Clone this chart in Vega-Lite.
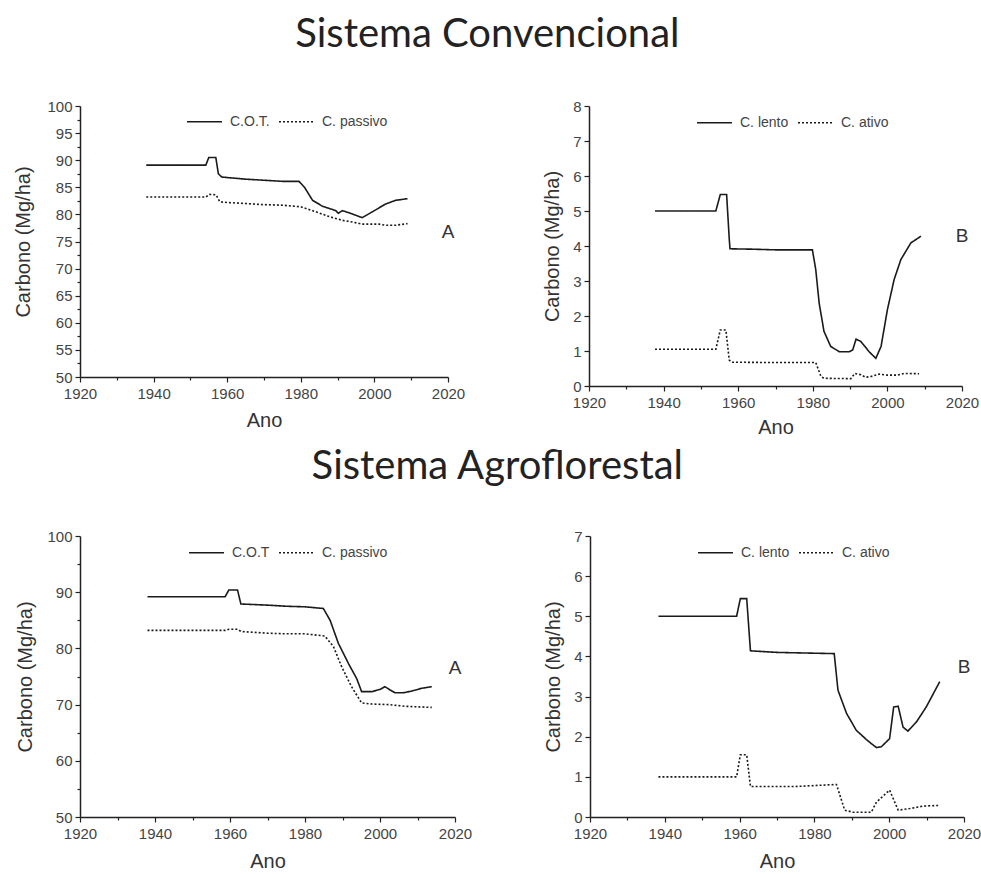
{
  "$schema": "https://vega.github.io/schema/vega-lite/v6.json",
  "padding": {"left": 13, "top": 15, "right": 0, "bottom": 0},
  "background": "white",
  "datasets": {
    "convA": [
      {"ano": 1938, "c": 89.1, "serie": "C.O.T."},
      {"ano": 1954.2, "c": 89.1, "serie": "C.O.T."},
      {"ano": 1955, "c": 90.5, "serie": "C.O.T."},
      {"ano": 1956.9, "c": 90.5, "serie": "C.O.T."},
      {"ano": 1957.6, "c": 87.5, "serie": "C.O.T."},
      {"ano": 1958.5, "c": 86.9, "serie": "C.O.T."},
      {"ano": 1960, "c": 86.8, "serie": "C.O.T."},
      {"ano": 1965, "c": 86.5, "serie": "C.O.T."},
      {"ano": 1970, "c": 86.3, "serie": "C.O.T."},
      {"ano": 1975, "c": 86.1, "serie": "C.O.T."},
      {"ano": 1979.5, "c": 86.1, "serie": "C.O.T."},
      {"ano": 1981, "c": 85.0, "serie": "C.O.T."},
      {"ano": 1983.2, "c": 82.6, "serie": "C.O.T."},
      {"ano": 1985.9, "c": 81.5, "serie": "C.O.T."},
      {"ano": 1989.5, "c": 80.7, "serie": "C.O.T."},
      {"ano": 1990.2, "c": 80.2, "serie": "C.O.T."},
      {"ano": 1991.3, "c": 80.7, "serie": "C.O.T."},
      {"ano": 1993.1, "c": 80.3, "serie": "C.O.T."},
      {"ano": 1996.7, "c": 79.4, "serie": "C.O.T."},
      {"ano": 1999.5, "c": 80.5, "serie": "C.O.T."},
      {"ano": 2003, "c": 81.9, "serie": "C.O.T."},
      {"ano": 2005.8, "c": 82.6, "serie": "C.O.T."},
      {"ano": 2009, "c": 82.9, "serie": "C.O.T."},
      {"ano": 1938, "c": 83.2, "serie": "C. passivo"},
      {"ano": 1954.2, "c": 83.2, "serie": "C. passivo"},
      {"ano": 1955.1, "c": 83.7, "serie": "C. passivo"},
      {"ano": 1957, "c": 83.6, "serie": "C. passivo"},
      {"ano": 1958, "c": 82.3, "serie": "C. passivo"},
      {"ano": 1960, "c": 82.2, "serie": "C. passivo"},
      {"ano": 1965, "c": 82.0, "serie": "C. passivo"},
      {"ano": 1970, "c": 81.8, "serie": "C. passivo"},
      {"ano": 1975, "c": 81.7, "serie": "C. passivo"},
      {"ano": 1980, "c": 81.4, "serie": "C. passivo"},
      {"ano": 1984, "c": 80.5, "serie": "C. passivo"},
      {"ano": 1987.7, "c": 79.6, "serie": "C. passivo"},
      {"ano": 1991.3, "c": 78.9, "serie": "C. passivo"},
      {"ano": 1994, "c": 78.6, "serie": "C. passivo"},
      {"ano": 1996.7, "c": 78.2, "serie": "C. passivo"},
      {"ano": 2001.3, "c": 78.2, "serie": "C. passivo"},
      {"ano": 2003, "c": 78.0, "serie": "C. passivo"},
      {"ano": 2005.8, "c": 78.0, "serie": "C. passivo"},
      {"ano": 2009, "c": 78.3, "serie": "C. passivo"}
    ],
    "convB": [
      {"ano": 1937.7, "c": 5.0, "serie": "C. lento"},
      {"ano": 1954, "c": 5.0, "serie": "C. lento"},
      {"ano": 1955.2, "c": 5.47, "serie": "C. lento"},
      {"ano": 1956.9, "c": 5.47, "serie": "C. lento"},
      {"ano": 1957.6, "c": 4.2, "serie": "C. lento"},
      {"ano": 1957.8, "c": 3.92, "serie": "C. lento"},
      {"ano": 1963.4, "c": 3.91, "serie": "C. lento"},
      {"ano": 1970, "c": 3.89, "serie": "C. lento"},
      {"ano": 1979.9, "c": 3.89, "serie": "C. lento"},
      {"ano": 1980.8, "c": 3.32, "serie": "C. lento"},
      {"ano": 1981.7, "c": 2.37, "serie": "C. lento"},
      {"ano": 1983, "c": 1.56, "serie": "C. lento"},
      {"ano": 1984.8, "c": 1.13, "serie": "C. lento"},
      {"ano": 1987.1, "c": 0.98, "serie": "C. lento"},
      {"ano": 1989.8, "c": 0.98, "serie": "C. lento"},
      {"ano": 1990.7, "c": 1.03, "serie": "C. lento"},
      {"ano": 1991.6, "c": 1.34, "serie": "C. lento"},
      {"ano": 1992.9, "c": 1.27, "serie": "C. lento"},
      {"ano": 1995.1, "c": 0.98, "serie": "C. lento"},
      {"ano": 1996.9, "c": 0.79, "serie": "C. lento"},
      {"ano": 1998.3, "c": 1.13, "serie": "C. lento"},
      {"ano": 2000, "c": 2.18, "serie": "C. lento"},
      {"ano": 2001.8, "c": 3.04, "serie": "C. lento"},
      {"ano": 2003.6, "c": 3.61, "serie": "C. lento"},
      {"ano": 2006.3, "c": 4.09, "serie": "C. lento"},
      {"ano": 2009, "c": 4.28, "serie": "C. lento"},
      {"ano": 1937.7, "c": 1.05, "serie": "C. ativo"},
      {"ano": 1954, "c": 1.05, "serie": "C. ativo"},
      {"ano": 1955.2, "c": 1.6, "serie": "C. ativo"},
      {"ano": 1956.7, "c": 1.6, "serie": "C. ativo"},
      {"ano": 1957.6, "c": 0.74, "serie": "C. ativo"},
      {"ano": 1958.2, "c": 0.68, "serie": "C. ativo"},
      {"ano": 1970, "c": 0.67, "serie": "C. ativo"},
      {"ano": 1980.8, "c": 0.67, "serie": "C. ativo"},
      {"ano": 1982.2, "c": 0.27, "serie": "C. ativo"},
      {"ano": 1983, "c": 0.22, "serie": "C. ativo"},
      {"ano": 1990.2, "c": 0.21, "serie": "C. ativo"},
      {"ano": 1991.3, "c": 0.36, "serie": "C. ativo"},
      {"ano": 1992.9, "c": 0.32, "serie": "C. ativo"},
      {"ano": 1994.2, "c": 0.25, "serie": "C. ativo"},
      {"ano": 1995.6, "c": 0.27, "serie": "C. ativo"},
      {"ano": 1997.8, "c": 0.34, "serie": "C. ativo"},
      {"ano": 2000, "c": 0.31, "serie": "C. ativo"},
      {"ano": 2002.7, "c": 0.31, "serie": "C. ativo"},
      {"ano": 2004.5, "c": 0.36, "serie": "C. ativo"},
      {"ano": 2008.5, "c": 0.35, "serie": "C. ativo"}
    ],
    "agroA": [
      {"ano": 1938, "c": 89.2, "serie": "C.O.T"},
      {"ano": 1958.7, "c": 89.2, "serie": "C.O.T"},
      {"ano": 1959.7, "c": 90.4, "serie": "C.O.T"},
      {"ano": 1962, "c": 90.4, "serie": "C.O.T"},
      {"ano": 1962.9, "c": 87.9, "serie": "C.O.T"},
      {"ano": 1970, "c": 87.7, "serie": "C.O.T"},
      {"ano": 1975, "c": 87.5, "serie": "C.O.T"},
      {"ano": 1980, "c": 87.4, "serie": "C.O.T"},
      {"ano": 1984.9, "c": 87.1, "serie": "C.O.T"},
      {"ano": 1986.7, "c": 85.0, "serie": "C.O.T"},
      {"ano": 1988.9, "c": 80.9, "serie": "C.O.T"},
      {"ano": 1991.6, "c": 77.3, "serie": "C.O.T"},
      {"ano": 1993.8, "c": 74.6, "serie": "C.O.T"},
      {"ano": 1995.1, "c": 72.3, "serie": "C.O.T"},
      {"ano": 1997.8, "c": 72.3, "serie": "C.O.T"},
      {"ano": 2000, "c": 72.7, "serie": "C.O.T"},
      {"ano": 2001.3, "c": 73.2, "serie": "C.O.T"},
      {"ano": 2002.7, "c": 72.6, "serie": "C.O.T"},
      {"ano": 2004, "c": 72.1, "serie": "C.O.T"},
      {"ano": 2006.2, "c": 72.1, "serie": "C.O.T"},
      {"ano": 2008.4, "c": 72.4, "serie": "C.O.T"},
      {"ano": 2011.1, "c": 72.9, "serie": "C.O.T"},
      {"ano": 2013.8, "c": 73.2, "serie": "C.O.T"},
      {"ano": 1938, "c": 83.2, "serie": "C. passivo"},
      {"ano": 1958.7, "c": 83.2, "serie": "C. passivo"},
      {"ano": 1959.7, "c": 83.4, "serie": "C. passivo"},
      {"ano": 1962, "c": 83.4, "serie": "C. passivo"},
      {"ano": 1963, "c": 83.0, "serie": "C. passivo"},
      {"ano": 1970, "c": 82.7, "serie": "C. passivo"},
      {"ano": 1975, "c": 82.6, "serie": "C. passivo"},
      {"ano": 1980, "c": 82.6, "serie": "C. passivo"},
      {"ano": 1985.3, "c": 82.2, "serie": "C. passivo"},
      {"ano": 1987.6, "c": 80.3, "serie": "C. passivo"},
      {"ano": 1989.8, "c": 76.7, "serie": "C. passivo"},
      {"ano": 1992.4, "c": 73.2, "serie": "C. passivo"},
      {"ano": 1995.1, "c": 70.3, "serie": "C. passivo"},
      {"ano": 1997.8, "c": 70.1, "serie": "C. passivo"},
      {"ano": 2002.2, "c": 70.0, "serie": "C. passivo"},
      {"ano": 2006.7, "c": 69.7, "serie": "C. passivo"},
      {"ano": 2013.8, "c": 69.5, "serie": "C. passivo"}
    ],
    "agroB": [
      {"ano": 1938.3, "c": 5.0, "serie": "C. lento"},
      {"ano": 1959.2, "c": 5.0, "serie": "C. lento"},
      {"ano": 1960.2, "c": 5.44, "serie": "C. lento"},
      {"ano": 1961.9, "c": 5.44, "serie": "C. lento"},
      {"ano": 1962.9, "c": 4.14, "serie": "C. lento"},
      {"ano": 1970, "c": 4.1, "serie": "C. lento"},
      {"ano": 1985.3, "c": 4.07, "serie": "C. lento"},
      {"ano": 1986.3, "c": 3.16, "serie": "C. lento"},
      {"ano": 1988.6, "c": 2.58, "serie": "C. lento"},
      {"ano": 1991.2, "c": 2.16, "serie": "C. lento"},
      {"ano": 1993.9, "c": 1.93, "serie": "C. lento"},
      {"ano": 1995.2, "c": 1.83, "serie": "C. lento"},
      {"ano": 1996.6, "c": 1.73, "serie": "C. lento"},
      {"ano": 1997.9, "c": 1.75, "serie": "C. lento"},
      {"ano": 2000.1, "c": 1.95, "serie": "C. lento"},
      {"ano": 2001.2, "c": 2.74, "serie": "C. lento"},
      {"ano": 2002.4, "c": 2.76, "serie": "C. lento"},
      {"ano": 2003.7, "c": 2.24, "serie": "C. lento"},
      {"ano": 2005, "c": 2.14, "serie": "C. lento"},
      {"ano": 2007.3, "c": 2.37, "serie": "C. lento"},
      {"ano": 2009.9, "c": 2.74, "serie": "C. lento"},
      {"ano": 2013.5, "c": 3.37, "serie": "C. lento"},
      {"ano": 1938.3, "c": 1.0, "serie": "C. ativo"},
      {"ano": 1959.2, "c": 1.0, "serie": "C. ativo"},
      {"ano": 1960.2, "c": 1.55, "serie": "C. ativo"},
      {"ano": 1961.9, "c": 1.55, "serie": "C. ativo"},
      {"ano": 1962.9, "c": 0.76, "serie": "C. ativo"},
      {"ano": 1975, "c": 0.76, "serie": "C. ativo"},
      {"ano": 1985.9, "c": 0.81, "serie": "C. ativo"},
      {"ano": 1988.1, "c": 0.17, "serie": "C. ativo"},
      {"ano": 1990.3, "c": 0.12, "serie": "C. ativo"},
      {"ano": 1995.2, "c": 0.12, "serie": "C. ativo"},
      {"ano": 1996.6, "c": 0.37, "serie": "C. ativo"},
      {"ano": 2000.1, "c": 0.67, "serie": "C. ativo"},
      {"ano": 2002.4, "c": 0.17, "serie": "C. ativo"},
      {"ano": 2005.5, "c": 0.21, "serie": "C. ativo"},
      {"ano": 2009, "c": 0.27, "serie": "C. ativo"},
      {"ano": 2013.5, "c": 0.29, "serie": "C. ativo"}
    ],
    "rotulos": [
      {"painel": "convA", "ano": 2020, "c": 76.8, "txt": "A"},
      {"painel": "convB", "ano": 2020, "c": 4.29, "txt": "B"},
      {"painel": "agroA", "ano": 2020, "c": 76.5, "txt": "A"},
      {"painel": "agroB", "ano": 2020, "c": 3.74, "txt": "B"}
    ]
  },
  "vconcat": [
    {
      "title": {"text": "Sistema Convencional", "anchor": "middle", "fontSize": 40, "font": "Lato", "fontWeight": "normal", "color": "#222", "offset": 44, "dx": -9},
      "spacing": 77,
      "resolve": {"scale": {"strokeDash": "independent"}, "legend": {"strokeDash": "independent"}},
      "hconcat": [
        {
          "width": 368, "height": 271,
          "layer": [
            {
              "data": {"name": "convA"},
              "mark": {"type": "line", "color": "#1a1a1a", "strokeWidth": 1.6},
              "encoding": {
                "x": {"field": "ano", "type": "quantitative", "scale": {"domain": [1920, 2020], "nice": false}, "axis": {"title": "Ano", "values": [1920,1930,1940,1950,1960,1970,1980,1990,2000,2010,2020], "tickCount": 200, "labelExpr": "datum.value % 20 === 0 ? datum.label : ''", "tickSize": {"condition": {"test": "datum.value % 20 === 0", "value": 5}, "value": 3}, "titlePadding": 9, "labelPadding": 4, "format": "d", "labelOverlap": false}},
                "y": {"field": "c", "type": "quantitative", "scale": {"domain": [50, 100], "nice": false, "zero": false}, "axis": {"title": "Carbono (Mg/ha)", "values": [50,52.5,55,57.5,60,62.5,65,67.5,70,72.5,75,77.5,80,82.5,85,87.5,90,92.5,95,97.5,100], "tickCount": 200, "format": "d", "labelExpr": "datum.value % 5 === 0 ? datum.label : ''", "tickSize": {"condition": {"test": "datum.value % 5 === 0", "value": 5}, "value": 3}, "titlePadding": 13, "labelOverlap": false}},
                "strokeDash": {"field": "serie", "type": "nominal", "scale": {"domain": ["C.O.T.", "C. passivo"], "range": [[1, 0], [2, 2]]}, "legend": {"orient": "none", "legendX": 106, "legendY": -3, "direction": "horizontal"}},
                "detail": {"field": "serie"}
              }
            },
            {
              "data": {"name": "rotulos"},
              "transform": [{"filter": "datum.painel === 'convA'"}],
              "mark": {"type": "text", "fontSize": 19, "font": "Liberation Sans", "color": "#333"},
              "encoding": {"x": {"field": "ano", "type": "quantitative"}, "y": {"field": "c", "type": "quantitative"}, "text": {"field": "txt"}}
            }
          ]
        },
        {
          "width": 373, "height": 280,
          "layer": [
            {
              "data": {"name": "convB"},
              "mark": {"type": "line", "color": "#1a1a1a", "strokeWidth": 1.6},
              "encoding": {
                "x": {"field": "ano", "type": "quantitative", "scale": {"domain": [1920, 2020], "nice": false}, "axis": {"title": "Ano", "values": [1920,1930,1940,1950,1960,1970,1980,1990,2000,2010,2020], "tickCount": 200, "labelExpr": "datum.value % 20 === 0 ? datum.label : ''", "tickSize": {"condition": {"test": "datum.value % 20 === 0", "value": 5}, "value": 3}, "titlePadding": 7, "labelPadding": 4, "format": "d", "labelOverlap": false}},
                "y": {"field": "c", "type": "quantitative", "scale": {"domain": [0, 8], "nice": false}, "axis": {"title": "Carbono (Mg/ha)", "values": [0,0.5,1,1.5,2,2.5,3,3.5,4,4.5,5,5.5,6,6.5,7,7.5,8], "tickCount": 200, "format": "d", "labelExpr": "datum.value % 1 === 0 ? datum.label : ''", "tickSize": {"condition": {"test": "datum.value % 1 === 0", "value": 5}, "value": 3}, "titlePadding": 10, "labelOverlap": false}},
                "strokeDash": {"field": "serie", "type": "nominal", "scale": {"domain": ["C. lento", "C. ativo"], "range": [[1, 0], [2, 2]]}, "legend": {"orient": "none", "legendX": 107, "legendY": -2, "direction": "horizontal"}},
                "detail": {"field": "serie"}
              }
            },
            {
              "data": {"name": "rotulos"},
              "transform": [{"filter": "datum.painel === 'convB'"}],
              "mark": {"type": "text", "fontSize": 19, "font": "Liberation Sans", "color": "#333"},
              "encoding": {"x": {"field": "ano", "type": "quantitative"}, "y": {"field": "c", "type": "quantitative"}, "text": {"field": "txt"}}
            }
          ]
        }
      ]
    },
    {
      "title": {"text": "Sistema Agroflorestal", "anchor": "middle", "fontSize": 40, "font": "Lato", "fontWeight": "normal", "color": "#222", "offset": 42, "dx": -1},
      "spacing": 71,
      "resolve": {"scale": {"strokeDash": "independent"}, "legend": {"strokeDash": "independent"}},
      "hconcat": [
        {
          "width": 375, "height": 281,
          "layer": [
            {
              "data": {"name": "agroA"},
              "mark": {"type": "line", "color": "#1a1a1a", "strokeWidth": 1.6},
              "encoding": {
                "x": {"field": "ano", "type": "quantitative", "scale": {"domain": [1920, 2020], "nice": false}, "axis": {"title": "Ano", "values": [1920,1930,1940,1950,1960,1970,1980,1990,2000,2010,2020], "tickCount": 200, "labelExpr": "datum.value % 20 === 0 ? datum.label : ''", "tickSize": {"condition": {"test": "datum.value % 20 === 0", "value": 5}, "value": 3}, "titlePadding": 10, "labelPadding": 4, "format": "d", "labelOverlap": false}},
                "y": {"field": "c", "type": "quantitative", "scale": {"domain": [50, 100], "nice": false, "zero": false}, "axis": {"title": "Carbono (Mg/ha)", "values": [50,55,60,65,70,75,80,85,90,95,100], "tickCount": 200, "format": "d", "labelExpr": "datum.value % 10 === 0 ? datum.label : ''", "tickSize": {"condition": {"test": "datum.value % 10 === 0", "value": 5}, "value": 3}, "titlePadding": 11, "labelOverlap": false}},
                "strokeDash": {"field": "serie", "type": "nominal", "scale": {"domain": ["C.O.T", "C. passivo"], "range": [[1, 0], [2, 2]]}, "legend": {"orient": "none", "legendX": 108, "legendY": -2, "direction": "horizontal"}},
                "detail": {"field": "serie"}
              }
            },
            {
              "data": {"name": "rotulos"},
              "transform": [{"filter": "datum.painel === 'agroA'"}],
              "mark": {"type": "text", "fontSize": 19, "font": "Liberation Sans", "color": "#333"},
              "encoding": {"x": {"field": "ano", "type": "quantitative"}, "y": {"field": "c", "type": "quantitative"}, "text": {"field": "txt"}}
            }
          ]
        },
        {
          "width": 374, "height": 281,
          "layer": [
            {
              "data": {"name": "agroB"},
              "mark": {"type": "line", "color": "#1a1a1a", "strokeWidth": 1.6},
              "encoding": {
                "x": {"field": "ano", "type": "quantitative", "scale": {"domain": [1920, 2020], "nice": false}, "axis": {"title": "Ano", "values": [1920,1930,1940,1950,1960,1970,1980,1990,2000,2010,2020], "tickCount": 200, "labelExpr": "datum.value % 20 === 0 ? datum.label : ''", "tickSize": {"condition": {"test": "datum.value % 20 === 0", "value": 5}, "value": 3}, "titlePadding": 10, "labelPadding": 4, "format": "d", "labelOverlap": false}},
                "y": {"field": "c", "type": "quantitative", "scale": {"domain": [0, 7], "nice": false}, "axis": {"title": "Carbono (Mg/ha)", "values": [0,0.5,1,1.5,2,2.5,3,3.5,4,4.5,5,5.5,6,6.5,7], "tickCount": 200, "format": "d", "labelExpr": "datum.value % 1 === 0 ? datum.label : ''", "tickSize": {"condition": {"test": "datum.value % 1 === 0", "value": 5}, "value": 3}, "titlePadding": 10, "labelOverlap": false}},
                "strokeDash": {"field": "serie", "type": "nominal", "scale": {"domain": ["C. lento", "C. ativo"], "range": [[1, 0], [2, 2]]}, "legend": {"orient": "none", "legendX": 107, "legendY": -2, "direction": "horizontal"}},
                "detail": {"field": "serie"}
              }
            },
            {
              "data": {"name": "rotulos"},
              "transform": [{"filter": "datum.painel === 'agroB'"}],
              "mark": {"type": "text", "fontSize": 19, "font": "Liberation Sans", "color": "#333"},
              "encoding": {"x": {"field": "ano", "type": "quantitative"}, "y": {"field": "c", "type": "quantitative"}, "text": {"field": "txt"}}
            }
          ]
        }
      ]
    }
  ],
  "spacing": 10,
  "config": {
    "view": {"stroke": null},
    "axis": {
      "grid": false,
      "domainColor": "#222",
      "domainWidth": 1.5,
      "tickColor": "#222",
      "tickWidth": 1.2,
      "labelColor": "#444",
      "labelFont": "Liberation Sans",
      "labelFontSize": 15,
      "labelPadding": 3,
      "titleColor": "#333",
      "titleFont": "Liberation Sans",
      "titleFontSize": 20,
      "titleFontWeight": "normal",
      "labelFlush": false
    },
    "legend": {
      "symbolType": "stroke",
      "symbolSize": 1225,
      "symbolStrokeWidth": 1.6,
      "symbolStrokeColor": "#1a1a1a",
      "symbolFillColor": "transparent",
      "labelFont": "Liberation Sans",
      "labelFontSize": 14,
      "labelColor": "#444",
      "labelOffset": 7,
      "columnPadding": 5,
      "title": null,
      "padding": 0
    }
  }
}
